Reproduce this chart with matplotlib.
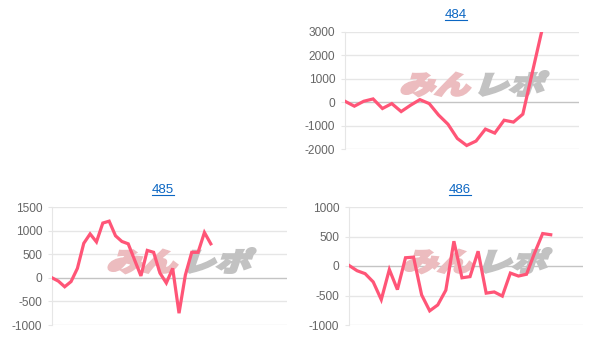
import numpy as np
import matplotlib.pyplot as plt
from matplotlib.textpath import TextPath
from matplotlib.font_manager import FontProperties
from matplotlib.patches import PathPatch
from matplotlib.transforms import Affine2D
from matplotlib.lines import Line2D

plt.rcParams['font.family'] = ['Liberation Sans', 'DejaVu Sans']

# machine numbers and differential curves
titles = ['484', '485', '486']
vals_484 = [40, -170, 40, 140, -270, -60, -400, -130, 110, -60, -550, -940,
            -1550, -1850, -1660, -1150, -1320, -770, -850, -510, 1250, 3000]
vals_485 = [0, -70, -190, -80, 200, 730, 930, 760, 1160, 1200, 890, 770, 720,
            380, 40, 580, 540, 100, -110, 200, -750, 60, 540, 540, 960, 720]
vals_486 = [10, -80, -130, -270, -570, -60, -400, 140, 150, -490, -760, -660,
            -410, 420, -200, -180, 250, -460, -440, -510, -120, -170, -140,
            220, 550, 530]
xmax = [25, 37, 29]
yticks = [[-2000, -1000, 0, 1000, 2000, 3000],
          [-1000, -500, 0, 500, 1000, 1500],
          [-1000, -500, 0, 500, 1000]]

W, H = 609, 354
fig = plt.figure(figsize=(W / 100, H / 100), dpi=100)

# axes boxes in pixels: left, top, right, bottom
boxes = [(345, 32, 579, 149), (52, 207, 287, 325), (349, 207, 583, 325)]
title_pos = [(456, 15), (163, 190), (460, 190)]
logo_pos = [(399, 94), (106, 271), (402, 271)]
series = [vals_484, vals_485, vals_486]

line_col = '#ff5577'
grid_col = '#e6e6e6'
zero_col = '#c4c4c4'

wm_font = FontProperties(family='Noto Sans CJK JP', weight='heavy')


def logo_patch(text, px, py, color, fig):
    tp = TextPath((0, 0), text, size=26, prop=wm_font)
    tr = (Affine2D().skew_deg(14, 0).scale(1.35, 1.0).translate(px, H - py)
          .scale(1 / W, 1 / H) + fig.transFigure)
    return PathPatch(tp, transform=tr, facecolor=color, edgecolor=color,
                     lw=1.8, zorder=1.5)


titles_txt = []
for i, (l, t, r, b) in enumerate(boxes):
    ax = fig.add_axes([l / W, 1 - b / H, (r - l) / W, (b - t) / H])
    y = series[i]
    x = np.arange(len(y))
    ax.plot(x, y, color=line_col, lw=2.3, zorder=3, solid_joinstyle='miter')
    ax.set_xlim(0, xmax[i])
    ax.set_ylim(yticks[i][0], yticks[i][-1])
    ax.set_yticks(yticks[i])
    ax.set_yticklabels([str(v) for v in yticks[i]])
    ax.set_xticks([])
    for yy in yticks[i]:
        ax.axhline(yy, color=zero_col if yy == 0 else grid_col, lw=1, zorder=1)
    for s in ['top', 'right', 'bottom']:
        ax.spines[s].set_visible(False)
    ax.spines['left'].set_color(grid_col)
    ax.tick_params(axis='y', length=3, color=grid_col, pad=4,
                   labelsize=8.6, labelcolor='#666666')
    ax.set_facecolor('none')

    px, py = logo_pos[i]
    ax.add_patch(logo_patch('みん', px, py, '#ecbcbf', fig))
    ax.add_patch(logo_patch('レポ', px + 74, py, '#c2c2c2', fig))

    tx, ty = title_pos[i]
    titles_txt.append(fig.text(tx / W, 1 - ty / H, titles[i], ha='center',
                               va='center', fontsize=9.5, color='#0b66c3'))

fig.canvas.draw()
r = fig.canvas.get_renderer()
for t in titles_txt:
    bb = t.get_window_extent(r).transformed(fig.transFigure.inverted())
    fig.add_artist(Line2D([bb.x0, bb.x1], [bb.y0 + 0.003, bb.y0 + 0.003],
                          transform=fig.transFigure, color='#0b66c3', lw=0.8))

fig.savefig('out.png', dpi=100)
